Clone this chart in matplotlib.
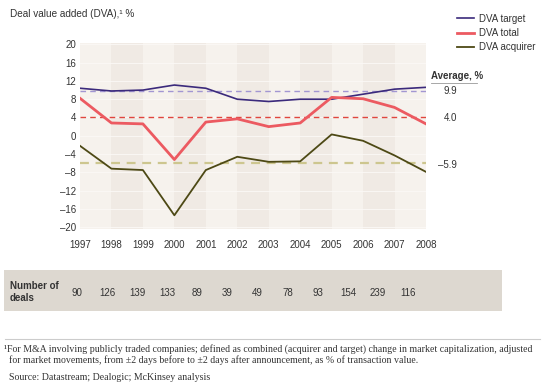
import matplotlib.pyplot as plt
from matplotlib.lines import Line2D

years = list(range(1997, 2009))
dva_target = [10.4, 9.8, 10.0, 11.1, 10.4, 8.0, 7.5, 8.0, 8.0, 9.1, 10.2, 10.6]
dva_total = [8.2, 2.8, 2.6, -5.2, 3.0, 3.7, 2.0, 2.8, 8.4, 8.1, 6.2, 2.6]
dva_acquirer = [-2.2, -7.2, -7.5, -17.4, -7.5, -4.6, -5.7, -5.6, 0.3, -1.1, -4.3, -7.9]
avg_target, avg_total, avg_acquirer = 9.9, 4.0, -5.9
deals = [90, 126, 139, 133, 89, 39, 49, 78, 93, 154, 239, 116]
yticks = list(range(-20, 21, 4))

plt.rcParams["font.family"] = ["Liberation Sans", "DejaVu Sans"]
txt = "#333333"

fig = plt.figure(figsize=(5.45, 3.9), dpi=100)
W, H = 545, 390

def fx(px):
    return px / W

def fy(py):
    return 1 - py / H

ax = fig.add_axes([fx(80), fy(229), fx(426) - fx(80), fy(43) - fy(229)])
ax.set_xlim(1997, 2008)
ax.set_ylim(-20.4, 20.3)
ax.set_facecolor("#f6f2ed")

# alternating column shading and faint grid
for y0 in range(1998, 2008, 2):
    ax.axvspan(y0, y0 + 1, color="#f0eae4", lw=0, zorder=0)
for t in yticks:
    ax.axhline(t, color="#fbf9f6", lw=0.6, zorder=1)

ax.axhline(avg_target, color="#a296d2", lw=1.0, ls=(0, (4, 3)), zorder=2)
ax.axhline(avg_total, color="#e0463e", lw=1.0, ls=(0, (4, 3)), zorder=2)
ax.axhline(avg_acquirer, color="#cdc68f", lw=1.6, ls=(0, (4, 3)), zorder=2)

ax.plot(years, dva_target, color="#3b2a7c", lw=1.2, zorder=3)
ax.plot(years, dva_total, color="#ec5a61", lw=2.0, zorder=3)
ax.plot(years, dva_acquirer, color="#4d4915", lw=1.3, zorder=3)

for s in ax.spines.values():
    s.set_visible(False)
ax.set_yticks(yticks)
ax.set_yticklabels([str(t).replace("-", "\u2013") for t in yticks])
ax.set_xticks(years)
ax.tick_params(length=0, labelsize=7, colors=txt)
ax.tick_params(axis="y", pad=3)
ax.tick_params(axis="x", pad=8)

# title
fig.text(fx(10), fy(14), "Deal value added (DVA),\u00b9 %", fontsize=7.2, color=txt, va="center")

# legend
handles = [Line2D([], [], color="#3b2a7c", lw=1.2),
           Line2D([], [], color="#ec5a61", lw=2.0),
           Line2D([], [], color="#4d4915", lw=1.3)]
fig.legend(handles, ["DVA target", "DVA total", "DVA acquirer"],
           loc="upper left", bbox_to_anchor=(fx(448), fy(5)), frameon=False,
           fontsize=7, handlelength=1.8, handletextpad=0.5, labelspacing=0.45,
           labelcolor=txt)

# averages
fig.text(fx(431), fy(76), "Average, %", fontsize=7, fontweight="bold", color=txt, va="center")
fig.add_artist(Line2D([fx(431), fx(477)], [fy(83), fy(83)], color="#999999", lw=0.6))
for v, py in [(avg_target, 91), (avg_total, 118), (avg_acquirer, 165)]:
    fig.text(fx(457), fy(py), f"{v:.1f}".replace("-", "\u2013"), fontsize=7,
             color=txt, ha="right", va="center")

# deals table
fig.patches.append(plt.Rectangle((fx(4), fy(311)), fx(502) - fx(4), fy(270) - fy(311),
                                 transform=fig.transFigure, color="#ddd8d0", lw=0))
fig.text(fx(10), fy(292), "Number of\ndeals", fontsize=7, fontweight="bold", color=txt,
         va="center", linespacing=1.15)
for i, d in enumerate(deals):
    fig.text(fx(77 + i * 30.1), fy(293), str(d), fontsize=7, color=txt, ha="center", va="center")

# footnote
fig.add_artist(Line2D([fx(5), fx(540)], [fy(339), fy(339)], color="#cccccc", lw=0.8))
serif = ["Liberation Serif", "DejaVu Serif"]
fig.text(fx(4), fy(349), "\u00b9For M&A involving publicly traded companies; defined as combined (acquirer and target) change in market capitalization, adjusted",
         fontsize=7.1, family=serif, color=txt, va="center")
fig.text(fx(9), fy(360), "for market movements, from \u00b12 days before to \u00b12 days after announcement, as % of transaction value.",
         fontsize=7.1, family=serif, color=txt, va="center")
fig.text(fx(9), fy(377), "Source: Datastream; Dealogic; McKinsey analysis",
         fontsize=7.1, family=serif, color=txt, va="center")

fig.savefig("out.png", dpi=100)
